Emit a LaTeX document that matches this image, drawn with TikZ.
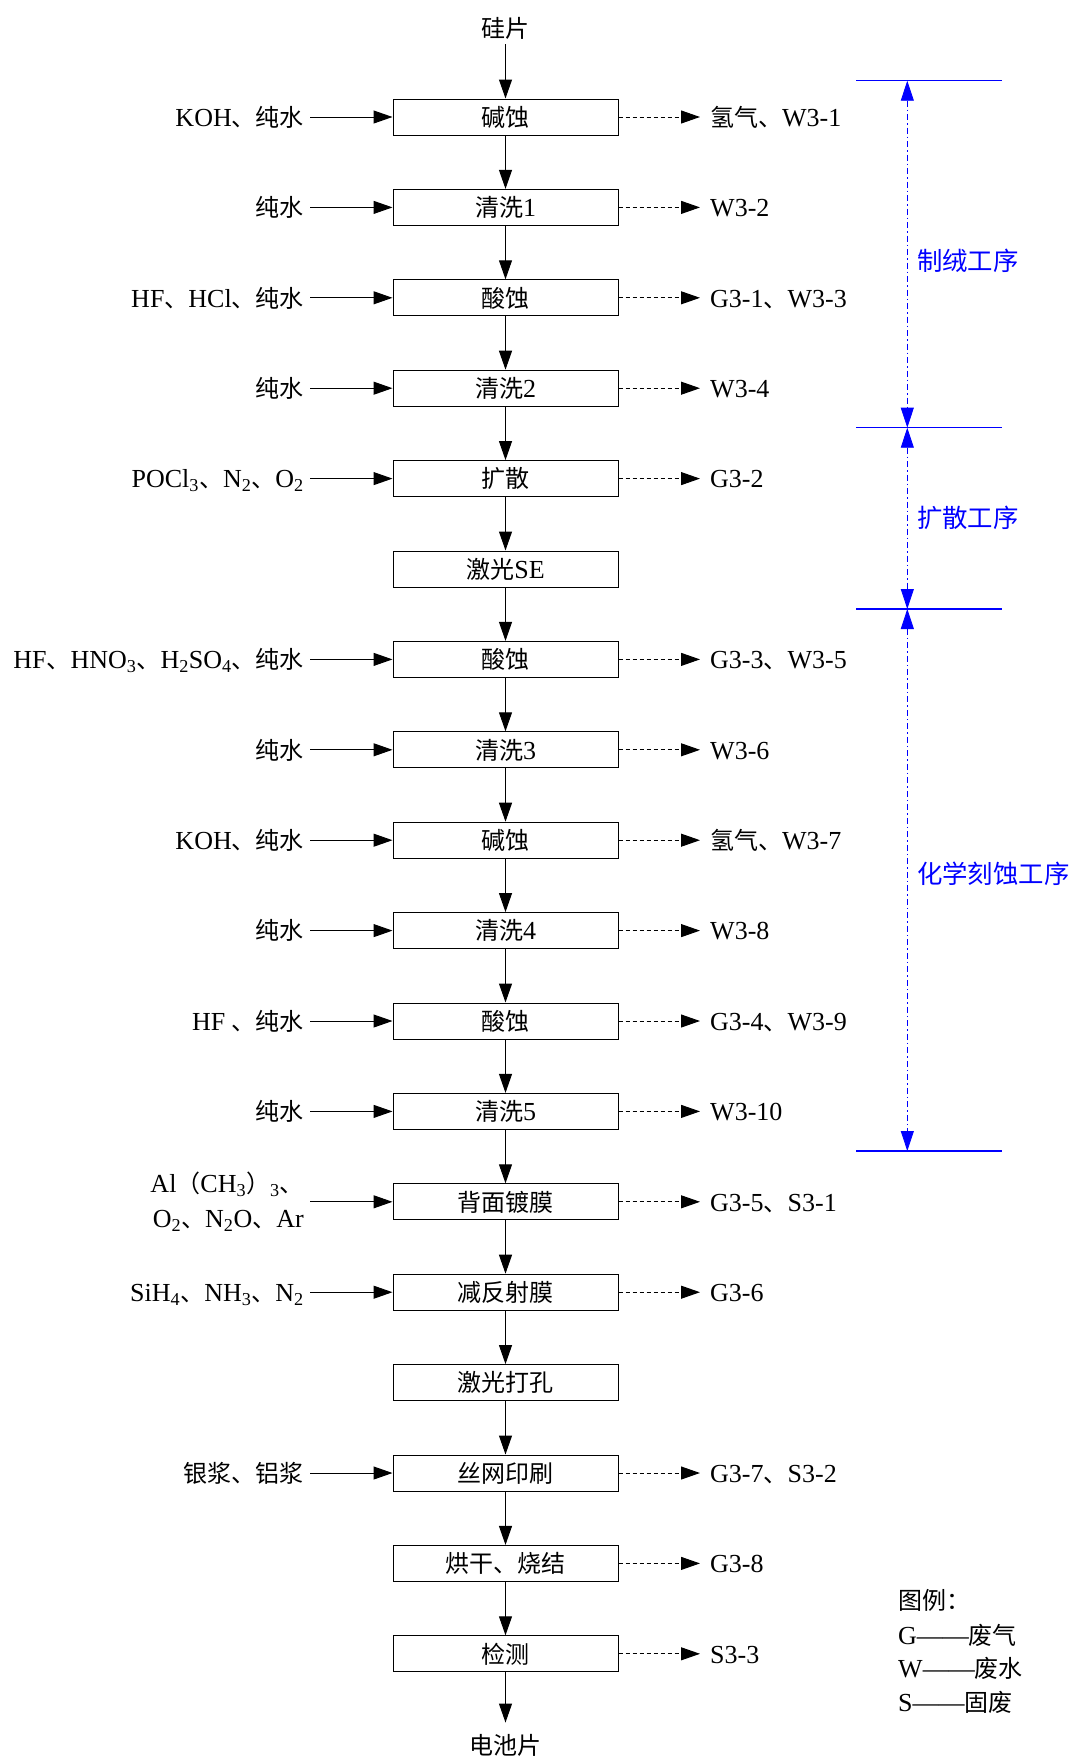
\documentclass[tikz,border=0pt]{standalone}
\usepackage{fontspec}
\setmainfont{Liberation Serif}
\newfontfamily\cjk[Scale=0.923]{Noto Sans CJK SC}
\newcommand\z[1]{{\cjk #1}}
\usetikzlibrary{arrows.meta}
\begin{document}
\begin{tikzpicture}[x=1pt,y=-1pt,
  txt/.style={font=\fontsize{26pt}{30pt}\selectfont, text height=21.5pt, text depth=3pt},
  box/.style={txt, draw, line width=1pt, minimum width=225pt, minimum height=36pt, inner sep=0pt},
  flow/.style={line width=1pt, -{Triangle[length=19pt,width=13pt]}},
  outflow/.style={flow, dash pattern=on 4pt off 3pt},
  inlab/.style={txt, anchor=east, inner xsep=6pt, inner ysep=0pt},
  outlab/.style={txt, anchor=west, inner xsep=10pt, inner ysep=0pt},
  bluelab/.style={font=\fontsize{27.5pt}{30pt}\selectfont, text height=22.5pt, text depth=3pt,
    blue, anchor=west, inner xsep=4pt, inner ysep=0pt},
  leglab/.style={txt, anchor=west, inner xsep=4pt, inner ysep=0pt},
  blueline/.style={blue, line width=1.2pt},
  bracket/.style={blue, line width=0.8pt, dash pattern=on 6pt off 3pt on 1.5pt off 3pt,
    {Triangle[length=20pt,width=13pt]}-{Triangle[length=20pt,width=13pt]}}
]
\useasboundingbox (0,0) rectangle (1069,1756);

% process boxes
\node[box] (b0)  at (505.5,117)    {\z{碱蚀}};
\node[box] (b1)  at (505.5,207.4)  {\z{清洗}1};
\node[box] (b2)  at (505.5,297.8)  {\z{酸蚀}};
\node[box] (b3)  at (505.5,388.2)  {\z{清洗}2};
\node[box] (b4)  at (505.5,478.6)  {\z{扩散}};
\node[box] (b5)  at (505.5,569)    {\z{激光}SE};
\node[box] (b6)  at (505.5,659.4)  {\z{酸蚀}};
\node[box] (b7)  at (505.5,749.8)  {\z{清洗}3};
\node[box] (b8)  at (505.5,840.2)  {\z{碱蚀}};
\node[box] (b9)  at (505.5,930.6)  {\z{清洗}4};
\node[box] (b10) at (505.5,1021)   {\z{酸蚀}};
\node[box] (b11) at (505.5,1111.4) {\z{清洗}5};
\node[box] (b12) at (505.5,1201.8) {\z{背面镀膜}};
\node[box] (b13) at (505.5,1292.2) {\z{减反射膜}};
\node[box] (b14) at (505.5,1382.6) {\z{激光打孔}};
\node[box] (b15) at (505.5,1473)   {\z{丝网印刷}};
\node[box] (b16) at (505.5,1563.4) {\z{烘干、烧结}};
\node[box] (b17) at (505.5,1653.8) {\z{检测}};

% start / end
\node[txt, inner ysep=4pt] (top) at (505.5,28) {\z{硅片}};
\node[txt, inner ysep=10pt] (bot) at (505.5,1745) {\z{电池片}};
\draw[flow] (top.south) -- (b0.north);
\draw[flow] (b17.south) -- (bot.north);
\foreach \i [evaluate=\i as \j using int(\i+1)] in {0,...,16}
  \draw[flow] (b\i.south) -- (b\j.north);

% inputs
\node[inlab] (l0)  at (310,117)    {KOH\z{、纯水}};
\node[inlab] (l1)  at (310,207.4)  {\z{纯水}};
\node[inlab] (l2)  at (310,297.8)  {HF\z{、}HCl\z{、纯水}};
\node[inlab] (l3)  at (310,388.2)  {\z{纯水}};
\node[inlab] (l4)  at (310,478.6)  {POCl\textsubscript{3}\z{、}N\textsubscript{2}\z{、}O\textsubscript{2}};
\node[inlab] (l6)  at (310,659.4)  {HF\z{、}HNO\textsubscript{3}\z{、}H\textsubscript{2}SO\textsubscript{4}\z{、纯水}};
\node[inlab] (l7)  at (310,749.8)  {\z{纯水}};
\node[inlab] (l8)  at (310,840.2)  {KOH\z{、纯水}};
\node[inlab] (l9)  at (310,930.6)  {\z{纯水}};
\node[inlab] (l10) at (310,1021)   {HF \z{、纯水}};
\node[inlab] (l11) at (310,1111.4) {\z{纯水}};
\node[anchor=east, inner xsep=6pt, inner ysep=0pt, align=right,
      font=\fontsize{26pt}{35pt}\selectfont] (l12) at (310,1201.8)
      {Al\z{（}CH\textsubscript{3}\z{）}\textsubscript{3}\z{、}\\O\textsubscript{2}\z{、}N\textsubscript{2}O\z{、}Ar};
\node[inlab] (l13) at (310,1292.2) {SiH\textsubscript{4}\z{、}NH\textsubscript{3}\z{、}N\textsubscript{2}};
\node[inlab] (l15) at (310,1473)   {\z{银浆、铝浆}};
\foreach \i in {0,1,2,3,4,6,7,8,9,10,11,12,13,15}
  \draw[flow] (l\i.east |- b\i.west) -- (b\i.west);

% outputs
\node[outlab] (r0)  at (700,117)    {\z{氢气、}W3-1};
\node[outlab] (r1)  at (700,207.4)  {W3-2};
\node[outlab] (r2)  at (700,297.8)  {G3-1\z{、}W3-3};
\node[outlab] (r3)  at (700,388.2)  {W3-4};
\node[outlab] (r4)  at (700,478.6)  {G3-2};
\node[outlab] (r6)  at (700,659.4)  {G3-3\z{、}W3-5};
\node[outlab] (r7)  at (700,749.8)  {W3-6};
\node[outlab] (r8)  at (700,840.2)  {\z{氢气、}W3-7};
\node[outlab] (r9)  at (700,930.6)  {W3-8};
\node[outlab] (r10) at (700,1021)   {G3-4\z{、}W3-9};
\node[outlab] (r11) at (700,1111.4) {W3-10};
\node[outlab] (r12) at (700,1201.8) {G3-5\z{、}S3-1};
\node[outlab] (r13) at (700,1292.2) {G3-6};
\node[outlab] (r15) at (700,1473)   {G3-7\z{、}S3-2};
\node[outlab] (r16) at (700,1563.4) {G3-8};
\node[outlab] (r17) at (700,1653.8) {S3-3};
\foreach \i in {0,1,2,3,4,6,7,8,9,10,11,12,13,15,16,17}
  \draw[outflow] (b\i.east) -- (r\i.west |- b\i.east);

% stage brackets
\coordinate (m0) at (907.3,80.7);
\coordinate (m1) at (907.3,427.7);
\coordinate (m2) at (907.3,609);
\coordinate (m3) at (907.3,1151);
\foreach \k in {0,1,2,3}
  \draw[blueline] ([xshift=-51.3pt]m\k) -- ([xshift=94.4pt]m\k);
\draw[bracket] (m0) -- (m1);
\draw[bracket] (m1) -- (m2);
\draw[bracket] (m2) -- (m3);
\node[bluelab] (s1) at (913,261) {\z{制绒工序}};
\node[bluelab] (s2) at (913,518) {\z{扩散工序}};
\node[bluelab] (s3) at (913,874) {\z{化学刻蚀工序}};

% legend
\node[leglab] (g0) at (894,1600) {\z{图例：}};
\node[leglab] (g1) at (894,1635) {G——\z{废气}};
\node[leglab] (g2) at (894,1668) {W——\z{废水}};
\node[leglab] (g3) at (894,1702) {S——\z{固废}};
\end{tikzpicture}
\end{document}
